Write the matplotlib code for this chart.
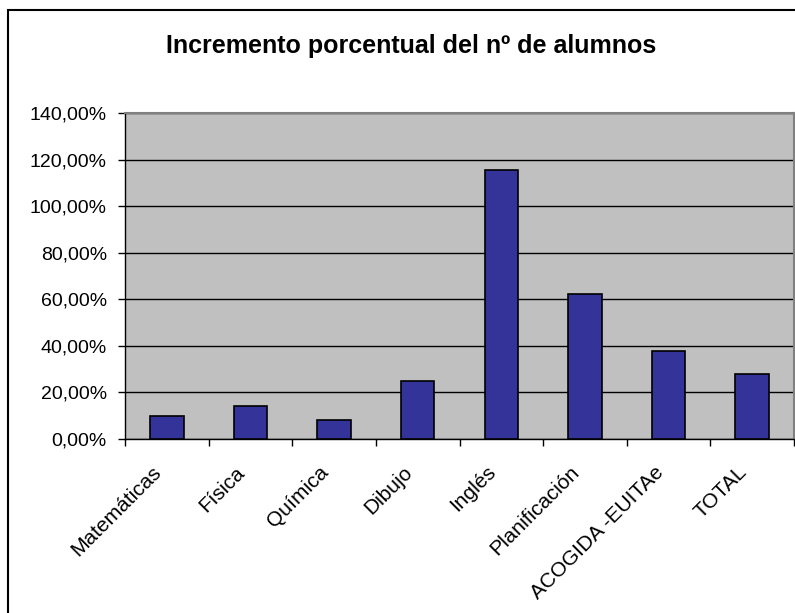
import matplotlib
matplotlib.use("Agg")
import matplotlib.pyplot as plt
from matplotlib.patches import Rectangle
from matplotlib.ticker import FuncFormatter, FixedLocator
from matplotlib.transforms import ScaledTranslation
import numpy as np

plt.rcParams['font.family'] = ['Liberation Sans', 'DejaVu Sans']

categories = ['Matemáticas', 'Física', 'Química', 'Dibujo', 'Inglés',
              'Planificación', 'ACOGIDA -EUITAe', 'TOTAL']
values = [10.0, 14.2, 8.1, 24.8, 115.7, 62.4, 37.9, 27.8]
title = 'Incremento porcentual del nº de alumnos'

W, H = 795, 613
fig = plt.figure(figsize=(W / 100, H / 100), dpi=100)
fig.patch.set_facecolor('white')

# outer chart border (right and bottom edges fall outside the image)
fig.patches.append(Rectangle((8 / W, -0.05), 1.1, 1 - 10 / H + 0.05,
                             transform=fig.transFigure, fill=False,
                             edgecolor='black', linewidth=1.5))

ax = fig.add_axes([125 / W, 1 - 439 / H, 669 / W, 326 / H])
ax.set_facecolor('#C0C0C0')

x = np.arange(len(categories))
ax.bar(x, values, width=0.4, color='#333399', edgecolor='black',
       linewidth=1.2, zorder=3)

ax.set_xlim(-0.5, len(categories) - 0.5)
ax.set_ylim(0, 140)
ax.set_yticks(np.arange(0, 141, 20))
ax.yaxis.set_major_formatter(FuncFormatter(
    lambda v, p: ('%.2f%%' % v).replace('.', ',')))
ax.grid(axis='y', color='black', linewidth=1, zorder=1)
ax.set_axisbelow(True)

ax.set_xticks(x)
ax.set_xticklabels(categories, rotation=45, ha='right',
                   rotation_mode='anchor', fontsize=15)
ax.tick_params(axis='x', which='major', length=0, pad=17)
shift = ScaledTranslation(-15 / 100, 0, fig.dpi_scale_trans)
for lbl in ax.get_xticklabels():
    lbl.set_transform(lbl.get_transform() + shift)
ax.xaxis.set_minor_locator(FixedLocator(np.arange(-0.5, len(categories), 1)))
ax.tick_params(axis='x', which='minor', length=5, width=1, direction='out')
ax.tick_params(axis='y', length=5, width=1, labelsize=14, pad=8)

for s in ['left', 'bottom']:
    ax.spines[s].set_color('black')
    ax.spines[s].set_linewidth(1)
for s in ['top', 'right']:
    ax.spines[s].set_color('#808080')
    ax.spines[s].set_linewidth(1.5)

fig.text(411 / W, 1 - 53 / H, title, ha='center', va='baseline',
         fontsize=18, fontweight='bold')

fig.savefig('out.png', dpi=100)
